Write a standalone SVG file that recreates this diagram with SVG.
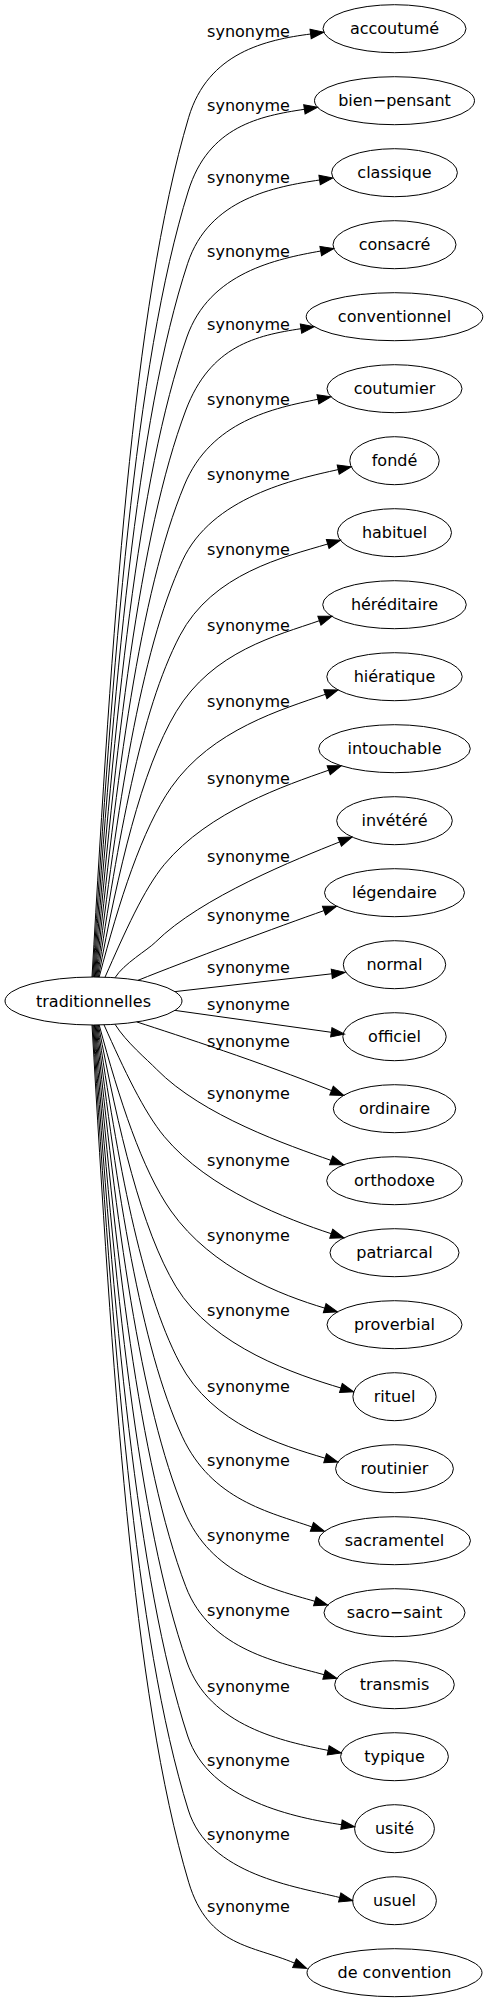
<svg xmlns="http://www.w3.org/2000/svg" width="487" height="2003" viewBox="0 0 487 2003">
<style>
.n ellipse{fill:none;stroke:#000;stroke-width:1}
.n text{font-family:"DejaVu Sans","Liberation Sans",sans-serif;font-size:16px;text-anchor:middle;fill:#000}
.e path{fill:none;stroke:#000;stroke-width:1;marker-end:url(#ah)}
.e text{font-family:"DejaVu Sans","Liberation Sans",sans-serif;font-size:16px;text-anchor:middle;fill:#000}
</style>
<defs>
<marker id="ah" markerWidth="15" markerHeight="11" viewBox="0 0 15 11" refX="0" refY="5" orient="auto" markerUnits="userSpaceOnUse" overflow="visible">
<path d="M0,0.3 L13.3,5 L0,9.7 Z" fill="#000" stroke="#000" stroke-width="1"/>
</marker>
</defs>
<rect width="487" height="2003" fill="#fff"/>
<g id="edges" class="e">
<path d="M92,977 C112,633.1 132.3,306.4 188.7,117.3 C208,52.4 266,39.8 310.6,34"/>
<path d="M92.8,977 C112.8,662.6 134.4,363.9 188.3,191 C208.5,126.1 259.9,116 304.4,109.3"/>
<path d="M93.6,977 C113.6,691.5 136,420.3 187.7,263.3 C209,198.5 275.1,186.6 319.6,180"/>
<path d="M94.4,977 C114.4,721 137.5,477.8 186.9,337 C209.6,272.4 276.4,259 320.7,251"/>
<path d="M95.2,977 C115.2,750.2 138.8,534.7 185.9,410 C210.2,345.6 256.5,335.4 301,328.7"/>
<path d="M96,977 C116,780.2 139.5,593.2 184.4,485 C211,420.9 273.7,408.1 317.9,399.3"/>
<path d="M96.8,977 C116.8,810.5 140.1,652.3 182.4,560.7 C211.7,497.3 294.2,479.3 338.2,469.6"/>
<path d="M97.6,977 C117.6,840.5 140.6,710.8 179.8,635.7 C212.4,573.3 284.6,556.9 327.7,544"/>
<path d="M98.4,977 C118.4,870.9 141.1,770.1 176.2,711.7 C212.7,651 276.9,635.6 319.4,620.7"/>
<path d="M99.2,977 C119.2,901.1 142,829 171.3,787.3 C211.9,729.4 282.9,709.2 325.4,694.3"/>
<path d="M105,977.2 C125,932 143.8,889.1 164.5,864.3 C208.9,811.1 286.2,785.1 328.7,770.2"/>
<path d="M115,977.7 C123.9,963.5 147.5,950.1 155.3,942.3 C200.8,897.05 297.9,858.6 339.7,841.9"/>
<path d="M138,980.3 C186,961 281.5,925.5 324,910.6"/>
<path d="M175,991.6 L331.8,973.8"/>
<path d="M175,1010.4 L331.3,1032.3"/>
<path d="M136.7,1021.9 C180,1036 260,1062 331.5,1090.6"/>
<path d="M115,1024.3 C126.3,1042.3 146.9,1059.4 156.6,1069.3 C202.3,1115.8 288.6,1145.5 331.1,1160.4"/>
<path d="M104,1024.8 C124,1069.6 143.9,1112.1 164.4,1136.7 C208.7,1189.8 288.5,1219.6 331.2,1233.7"/>
<path d="M99.2,1025 C119.2,1099.4 142.1,1170.1 171,1211 C211.9,1268.8 281.6,1295.2 324.7,1308.1"/>
<path d="M98.4,1025 C118.4,1129.7 141.2,1229.1 176,1286.7 C212.7,1347.3 297.8,1375.1 340.9,1388"/>
<path d="M97.6,1025 C117.6,1160.1 140.5,1288.4 179.6,1362.7 C212.4,1425.1 282,1445.3 325.1,1458.2"/>
<path d="M96.8,1025 C116.8,1189.7 140.2,1346.1 182.3,1436.7 C211.8,1500.1 269.4,1512.1 311.9,1526.9"/>
<path d="M96,1025 C116,1219.4 139.6,1404.1 184.3,1511 C211.1,1575 271.7,1588.8 314.9,1601.3"/>
<path d="M95.2,1025 C115.2,1249.6 138.7,1463 185.8,1586.6 C210.3,1651 280.8,1662.6 324.1,1674.7"/>
<path d="M94.4,1025 C114.4,1279.8 137.6,1521.9 186.9,1662 C209.6,1726.6 284.1,1741.6 328.2,1750.4"/>
<path d="M93.6,1025 C113.6,1309.4 136.2,1579.6 187.7,1736 C209,1800.8 297,1818 341.5,1824.7"/>
<path d="M92.8,1025 C112.8,1339 134.4,1637.3 188.3,1810 C208.5,1874.9 296.1,1886.6 339.7,1897.5"/>
<path d="M92,1025 C112,1367.9 132.3,1693.7 188.7,1882.3 C208.1,1947.2 253.1,1945.4 294.5,1963.1"/>
<text x="248.5" y="36.8">synonyme</text>
<text x="248.5" y="110.5">synonyme</text>
<text x="248.5" y="182.8">synonyme</text>
<text x="248.5" y="256.5">synonyme</text>
<text x="248.5" y="329.5">synonyme</text>
<text x="248.5" y="404.5">synonyme</text>
<text x="248.5" y="480.2">synonyme</text>
<text x="248.5" y="555.2">synonyme</text>
<text x="248.5" y="631.2">synonyme</text>
<text x="248.5" y="706.8">synonyme</text>
<text x="248.5" y="783.8">synonyme</text>
<text x="248.5" y="861.8">synonyme</text>
<text x="248.5" y="921.2">synonyme</text>
<text x="248.5" y="972.8">synonyme</text>
<text x="248.5" y="1009.5">synonyme</text>
<text x="248.5" y="1046.5">synonyme</text>
<text x="248.5" y="1098.8">synonyme</text>
<text x="248.5" y="1166.2">synonyme</text>
<text x="248.5" y="1240.5">synonyme</text>
<text x="248.5" y="1316.2">synonyme</text>
<text x="248.5" y="1392.2">synonyme</text>
<text x="248.5" y="1466.2">synonyme</text>
<text x="248.5" y="1540.5">synonyme</text>
<text x="248.5" y="1616.1">synonyme</text>
<text x="248.5" y="1691.5">synonyme</text>
<text x="248.5" y="1765.5">synonyme</text>
<text x="248.5" y="1839.5">synonyme</text>
<text x="248.5" y="1911.8">synonyme</text>
</g>
<g id="traditionnelles" class="n"><ellipse cx="93.5" cy="1001" rx="88.5" ry="24"/><text x="93.5" y="1006.5">traditionnelles</text></g>
<g id="accoutume" class="n"><ellipse cx="394.5" cy="28.7" rx="71.5" ry="24"/><text x="394.5" y="34.2">accoutumé</text></g>
<g id="bien-pensant" class="n"><ellipse cx="394.5" cy="100.7" rx="80" ry="24"/><text x="394.5" y="106.2">bien−pensant</text></g>
<g id="classique" class="n"><ellipse cx="394.5" cy="172.7" rx="62.9" ry="24"/><text x="394.5" y="178.2">classique</text></g>
<g id="consacre" class="n"><ellipse cx="394.5" cy="244.7" rx="61.5" ry="24"/><text x="394.5" y="250.2">consacré</text></g>
<g id="conventionnel" class="n"><ellipse cx="394.5" cy="316.7" rx="88.3" ry="24"/><text x="394.5" y="322.2">conventionnel</text></g>
<g id="coutumier" class="n"><ellipse cx="394.5" cy="388.7" rx="67.5" ry="24"/><text x="394.5" y="394.2">coutumier</text></g>
<g id="fonde" class="n"><ellipse cx="394.5" cy="460.7" rx="44.7" ry="24"/><text x="394.5" y="466.2">fondé</text></g>
<g id="habituel" class="n"><ellipse cx="394.5" cy="532.7" rx="57" ry="24"/><text x="394.5" y="538.2">habituel</text></g>
<g id="hereditaire" class="n"><ellipse cx="394.5" cy="604.7" rx="71.8" ry="24"/><text x="394.5" y="610.2">héréditaire</text></g>
<g id="hieratique" class="n"><ellipse cx="394.5" cy="676.7" rx="67.7" ry="24"/><text x="394.5" y="682.2">hiératique</text></g>
<g id="intouchable" class="n"><ellipse cx="394.5" cy="748.7" rx="75.8" ry="24"/><text x="394.5" y="754.2">intouchable</text></g>
<g id="invetere" class="n"><ellipse cx="394.5" cy="820.7" rx="57.8" ry="24"/><text x="394.5" y="826.2">invétéré</text></g>
<g id="legendaire" class="n"><ellipse cx="394.5" cy="892.7" rx="70" ry="24"/><text x="394.5" y="898.2">légendaire</text></g>
<g id="normal" class="n"><ellipse cx="394.5" cy="964.7" rx="51.2" ry="24"/><text x="394.5" y="970.2">normal</text></g>
<g id="officiel" class="n"><ellipse cx="394.5" cy="1036.7" rx="51.7" ry="24"/><text x="394.5" y="1042.2">officiel</text></g>
<g id="ordinaire" class="n"><ellipse cx="394.5" cy="1108.7" rx="61.2" ry="24"/><text x="394.5" y="1114.2">ordinaire</text></g>
<g id="orthodoxe" class="n"><ellipse cx="394.5" cy="1180.7" rx="67.8" ry="24"/><text x="394.5" y="1186.2">orthodoxe</text></g>
<g id="patriarcal" class="n"><ellipse cx="394.5" cy="1252.7" rx="64.5" ry="24"/><text x="394.5" y="1258.2">patriarcal</text></g>
<g id="proverbial" class="n"><ellipse cx="394.5" cy="1324.7" rx="67.5" ry="24"/><text x="394.5" y="1330.2">proverbial</text></g>
<g id="rituel" class="n"><ellipse cx="394.5" cy="1396.7" rx="41.6" ry="24"/><text x="394.5" y="1402.2">rituel</text></g>
<g id="routinier" class="n"><ellipse cx="394.5" cy="1468.7" rx="58.9" ry="24"/><text x="394.5" y="1474.2">routinier</text></g>
<g id="sacramentel" class="n"><ellipse cx="394.5" cy="1540.7" rx="76" ry="24"/><text x="394.5" y="1546.2">sacramentel</text></g>
<g id="sacro-saint" class="n"><ellipse cx="394.5" cy="1612.7" rx="70.5" ry="24"/><text x="394.5" y="1618.2">sacro−saint</text></g>
<g id="transmis" class="n"><ellipse cx="394.5" cy="1684.7" rx="59.8" ry="24"/><text x="394.5" y="1690.2">transmis</text></g>
<g id="typique" class="n"><ellipse cx="394.5" cy="1756.7" rx="53.9" ry="24"/><text x="394.5" y="1762.2">typique</text></g>
<g id="usite" class="n"><ellipse cx="394.5" cy="1828.7" rx="39.9" ry="24"/><text x="394.5" y="1834.2">usité</text></g>
<g id="usuel" class="n"><ellipse cx="394.5" cy="1900.7" rx="41.9" ry="24"/><text x="394.5" y="1906.2">usuel</text></g>
<g id="de-convention" class="n"><ellipse cx="394.5" cy="1972.7" rx="87.5" ry="24"/><text x="394.5" y="1978.2">de convention</text></g>
</svg>
